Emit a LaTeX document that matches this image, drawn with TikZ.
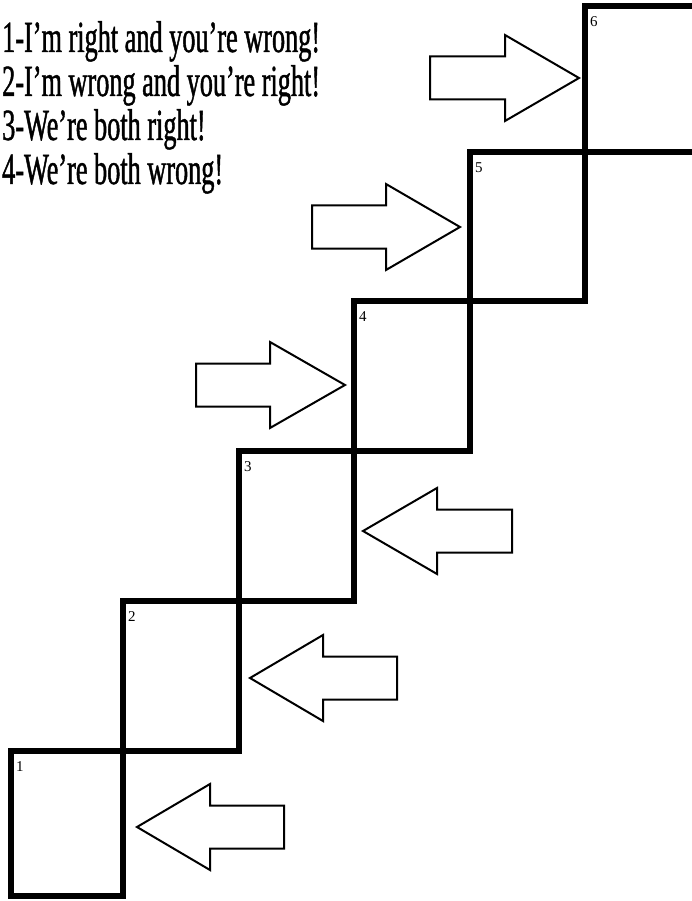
\documentclass[tikz,border=0pt]{standalone}
\usepackage{fontspec}
\setmainfont{Liberation Serif}
\newfontfamily\slimserif[FakeStretch=0.59, FakeBold=1]{Liberation Serif}

\begin{document}
\begin{tikzpicture}[
			x=1pt, y=-1pt,
			stairbox/.style={draw, line width=6pt, outer sep=0pt, inner sep=0pt, minimum width=115pt, minimum height=150pt},
			num/.style={anchor=north west, inner sep=0pt, font=\fontsize{15}{15}\selectfont},
			saying/.style={anchor=base west, inner sep=0pt, font=\slimserif\fontsize{44.5}{44.5}\selectfont},
			outline/.style={draw, line width=2pt, line join=miter, fill=white},
		]
		\useasboundingbox[fill=white] (0, 0) rectangle (692, 901);

		\node[saying] (say1) at (2, 52)  {1-I’m right and you’re wrong!};
		\node[saying] (say2) at (2, 96)  {2-I’m wrong and you’re right!};
		\node[saying] (say3) at (2, 140) {3-We’re both right!};
		\node[saying] (say4) at (2, 184) {4-We’re both wrong!};

		% the stairs
		\node[stairbox, minimum width=112pt, minimum height=145pt] (step1) at (67, 823.5) {};
		\node[stairbox, minimum width=116pt] (step2) at (181, 676)   {};
		\node[stairbox] (step3) at (296.5, 526) {};
		\node[stairbox, minimum width=116pt] (step4) at (412, 376)   {};
		\node[stairbox, minimum height=149pt] (step5) at (527.5, 226.5) {};
		\node[stairbox, minimum height=146pt] (step6) at (642.5, 79)  {};

		\node[num] (n1) at ([xshift=5pt, yshift=-10pt]step1.north west) {1};
		\node[num] (n2) at ([xshift=5pt, yshift=-10pt]step2.north west) {2};
		\node[num] (n3) at ([xshift=5pt, yshift=-10pt]step3.north west) {3};
		\node[num] (n4) at ([xshift=5pt, yshift=-10pt]step4.north west) {4};
		\node[num] (n5) at ([xshift=5pt, yshift=-10pt]step5.north west) {5};
		\node[num] (n6) at ([xshift=5pt, yshift=-10pt]step6.north west) {6};

		% arrows pointing back down
		\coordinate (t1) at (137, 827);
		\coordinate (t2) at (250, 678);
		\coordinate (t3) at (363, 531);
		\draw[outline] (t1) -- ++(73, -43) -- ++(0, 21.5) -- ++(74, 0) -- ++(0, 43) -- ++(-74, 0) -- ++(0, 21.5) -- cycle;
		\draw[outline] (t2) -- ++(73, -43) -- ++(0, 21.5) -- ++(74, 0) -- ++(0, 43) -- ++(-74, 0) -- ++(0, 21.5) -- cycle;
		\draw[outline] (t3) -- ++(74, -43) -- ++(0, 21.5) -- ++(75, 0) -- ++(0, 43) -- ++(-75, 0) -- ++(0, 21.5) -- cycle;

		% arrows pointing up the stairs
		\coordinate (t4) at (345, 385);
		\coordinate (t5) at (460, 227);
		\coordinate (t6) at (579, 78);
		\draw[outline] (t4) -- ++(-75, -43) -- ++(0, 21.5) -- ++(-74, 0) -- ++(0, 43) -- ++(74, 0) -- ++(0, 21.5) -- cycle;
		\draw[outline] (t5) -- ++(-74, -43) -- ++(0, 21.5) -- ++(-74, 0) -- ++(0, 43) -- ++(74, 0) -- ++(0, 21.5) -- cycle;
		\draw[outline] (t6) -- ++(-74, -43) -- ++(0, 21.5) -- ++(-75, 0) -- ++(0, 43) -- ++(75, 0) -- ++(0, 21.5) -- cycle;
	\end{tikzpicture}
\end{document}
